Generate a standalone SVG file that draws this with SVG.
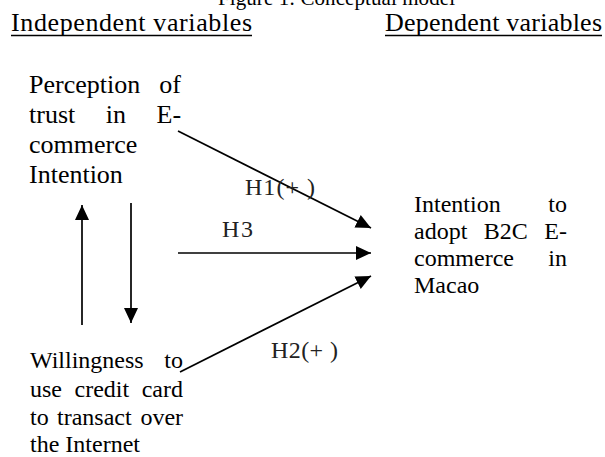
<svg xmlns="http://www.w3.org/2000/svg" width="605" height="457" viewBox="0 0 605 457">
<style>
text{font-family:'Liberation Serif','DejaVu Serif',serif;fill:#000}
.h{font-size:26px}
.l{font-size:26px}
.s{font-size:24px}
.lab{font-size:24px;fill:#222}
.ln{stroke:#000;stroke-width:1.7;fill:none}
</style>
<defs>
<marker id="ah" markerUnits="userSpaceOnUse" markerWidth="16" markerHeight="15" refX="15" refY="7" orient="auto">
<path d="M0,0 L15,7 L0,14 z" fill="#000"/>
</marker>
</defs>
<text x="218" y="5" style="font-size:21px" textLength="237">Figure 1: Conceptual model</text>
<g id="headings">
<text class="h" x="11" y="31" textLength="241">Independent  variables</text>
<line x1="11" y1="35.5" x2="252" y2="35.5" stroke="#000" stroke-width="1.5"/>
<text class="h" x="385" y="31" textLength="217">Dependent variables</text>
<line x1="385" y1="35.5" x2="602" y2="35.5" stroke="#000" stroke-width="1.5"/>
</g>
<g id="trust">
<text class="l"><tspan x="29" y="93">Perception</tspan><tspan x="159.3" y="93">of</tspan><tspan x="29" y="123">trust</tspan><tspan x="105.7" y="123">in</tspan><tspan x="156.5" y="123">E-</tspan><tspan x="29" y="153">commerce</tspan><tspan x="29" y="183">Intention</tspan></text>
</g>
<g id="willingness">
<text class="s"><tspan x="30" y="368">Willingness</tspan><tspan x="164.3" y="368">to</tspan><tspan x="30" y="397">use</tspan><tspan x="74.5" y="397">credit</tspan><tspan x="141.7" y="397">card</tspan><tspan x="30" y="425">to</tspan><tspan x="57" y="425">transact</tspan><tspan x="140.4" y="425">over</tspan><tspan x="30" y="452">the Internet</tspan></text>
</g>
<g id="intention">
<text class="s"><tspan x="414" y="212">Intention</tspan><tspan x="548.3" y="212">to</tspan><tspan x="414" y="239">adopt</tspan><tspan x="483.8" y="239">B2C</tspan><tspan x="544.3" y="239">E-</tspan><tspan x="414" y="266">commerce</tspan><tspan x="548.3" y="266">in</tspan><tspan x="414" y="293">Macao</tspan></text>
</g>
<g id="connectors">
<line class="ln" x1="178" y1="131" x2="371" y2="228" marker-end="url(#ah)"/>
<line class="ln" x1="178" y1="253" x2="371" y2="253" marker-end="url(#ah)"/>
<line class="ln" x1="180" y1="372" x2="371" y2="276" marker-end="url(#ah)"/>
<line class="ln" x1="82" y1="325" x2="82" y2="205" marker-end="url(#ah)"/>
<line class="ln" x1="131" y1="203" x2="131" y2="323" marker-end="url(#ah)"/>
<text class="lab" x="245" y="195" textLength="70">H1(+ )</text>
<text class="lab" x="222" y="237" textLength="31">H3</text>
<text class="lab" x="271" y="358" textLength="67">H2(+ )</text>
</g>
</svg>
